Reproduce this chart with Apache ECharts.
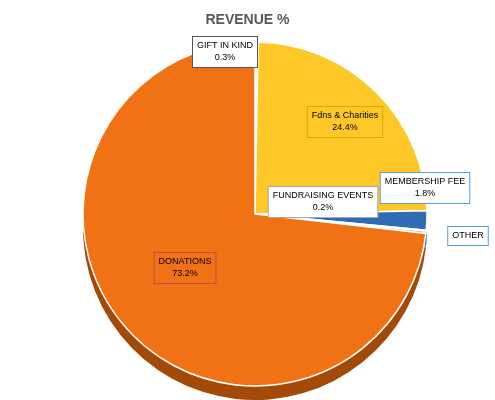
<!DOCTYPE html>
<html><head><meta charset="utf-8">
<script src="https://cdn.jsdelivr.net/npm/echarts@6/dist/echarts.min.js"></script>
<style>html,body{margin:0;background:#fff}#c{width:495px;height:400px}</style>
</head><body><div id="c"></div>
<script>
const categories = ['GIFT IN KIND','Fdns & Charities','MEMBERSHIP FEE','OTHER','FUNDRAISING EVENTS','DONATIONS'];
const values = [0.3, 24.4, 1.8, 0.1, 0.2, 73.2];
const colors = ['#f2f2f2','#fdc828','#2f6cb3','#9dc3e6','#a5a5a5','#f07214'];
const depthColors = ['#bfbfbf','#c89a10','#1f4e85','#6f95b8','#7a7a7a','#a34a08'];
const labelPos = [[225,52],[345,122],[425,188],[468,236],[323,202],[185,268]];
const labelBg = ['#fff','#fdc828','#fff','#fff','#fff','#f07214'];
const labelBorder = ['#555','#e0a800','#4fa3d9','#4fa3d9','#a5a5a5','#c0504d'];
const chart = echarts.init(document.getElementById('c'));
const data = categories.map((n,i)=>({name:n,value:values[i],itemStyle:{color:colors[i]},
  label:{backgroundColor:labelBg[i],borderColor:labelBorder[i],borderWidth:1,padding:[3,4]}}));
const dark = categories.map((n,i)=>({name:n,value:values[i],itemStyle:{color:depthColors[i]}}));
chart.setOption({
  title:{text:'REVENUE %',left:'center',top:8,textStyle:{fontSize:14,fontWeight:'bold',color:'#595959',fontFamily:'Liberation Sans'}},
  series:[
    {type:'pie',silent:true,center:[255,228],radius:[0,172],startAngle:90,label:{show:false},labelLine:{show:false},
     data:dark},
    {type:'pie',center:[255,214],radius:[0,172],startAngle:90,data:data,
     itemStyle:{borderColor:'#fff',borderWidth:1.5},
     label:{show:true,position:'inside',formatter:p=>p.dataIndex===3?p.name:p.name+'\n'+values[p.dataIndex].toFixed(1)+'%',
       fontSize:9,color:'#000',lineHeight:12,align:'center',fontFamily:'Liberation Sans'},
     labelLine:{show:false},
     labelLayout:p=>({x:labelPos[p.dataIndex][0],y:labelPos[p.dataIndex][1],align:'center',verticalAlign:'middle'})}
  ]
});
</script></body></html>
